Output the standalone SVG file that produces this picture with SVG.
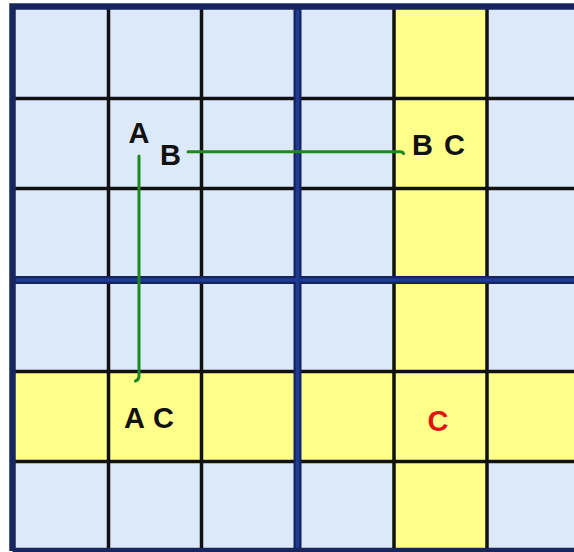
<svg xmlns="http://www.w3.org/2000/svg" width="574" height="552" viewBox="0 0 574 552">
<style>
.thin{stroke:#111;stroke-width:3.5;fill:none}
.thick{stroke:#15245e;stroke-width:8;fill:none}
.thickin{stroke:#1e3c96;stroke-width:3.5;fill:none}
.lbl{font-family:"Liberation Sans",Arial,sans-serif;font-weight:bold;font-size:29px;fill:#111}
.red{fill:#dd1515}
.conn{stroke:#1c8a1c;stroke-width:3;fill:none;stroke-linecap:round}
</style>
<rect x="0" y="0" width="574" height="552" fill="#ffffff"/>
<g id="cells">
<rect x="12.5" y="6.5" width="570" height="545" fill="#dce9f9"/>
<rect x="394" y="6.5" width="93" height="545" fill="#ffff8c"/>
<rect x="12.5" y="371.5" width="570" height="90" fill="#ffff8c"/>
</g>
<g id="grid">
<path class="thin" d="M108.5 6.5V551M201.5 6.5V551M394 6.5V551M487 6.5V551M12.5 98.5H574M12.5 188.5H574M12.5 371.5H574M12.5 461.5H574"/>
<path class="thick" d="M297.5 6.5V551M12.5 280H574"/>
<path class="thickin" d="M297.5 6.5V551M12.5 280H574"/>
<path d="M12.5 551V6.5H580M12.5 551H580" stroke="#17275e" stroke-width="6.5" fill="none"/>
</g>
<g id="connectors">
<path class="conn" d="M188 151.7H400q3 0 3.5 2"/>
<path class="conn" d="M139 156V376q0 4-3.5 5"/>
</g>
<g id="node-A"><text class="lbl" x="139" y="143" text-anchor="middle">A</text></g>
<g id="node-B"><text class="lbl" x="160" y="165">B</text></g>
<g id="node-BC"><text class="lbl" x="412" y="155" letter-spacing="1.5">B C</text></g>
<g id="node-AC"><text class="lbl" x="124" y="428" letter-spacing="0.5">A C</text></g>
<g id="node-C"><text class="lbl red" x="438" y="431" text-anchor="middle">C</text></g>
</svg>
